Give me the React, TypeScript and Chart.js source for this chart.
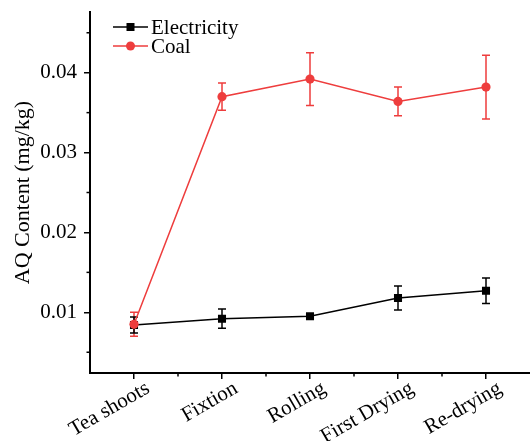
import React, { useEffect, useRef } from 'react';
import { Chart, registerables } from 'chart.js';

Chart.register(...registerables);

const categories = ['Tea shoots', 'Fixtion', 'Rolling', 'First Drying', 'Re-drying'];
const electricity = [0.0084, 0.0092, 0.0095, 0.0118, 0.0127];
const electricityErr = [0.0010, 0.0012, 0.0003, 0.0015, 0.0016];
const coal = [0.0085, 0.0370, 0.0392, 0.0364, 0.0382];
const coalErr = [0.0015, 0.0017, 0.0033, 0.0018, 0.0040];
const yMajorTicks = [0.01, 0.02, 0.03, 0.04];
const yMinorTicks = [0.005, 0.015, 0.025, 0.035, 0.045];
const yMin = 0.0024;
const yMax = 0.0476;

const FONT = '"Liberation Serif", "Times New Roman", serif';
const BLACK = '#000000';
const RED = '#EE3D3D';

const errorBarPlugin = {
  id: 'errorBars',
  beforeDatasetsDraw(chart: any) {
    const ctx = chart.ctx;
    const y = chart.scales.y;
    const order = chart.data.datasets.map((_: any, i: number) => i).reverse();
    order.forEach((di: number) => {
      const ds = chart.data.datasets[di];
      const meta = chart.getDatasetMeta(di);
      const errs: number[] = ds.errors;
      ctx.save();
      ctx.strokeStyle = ds.borderColor;
      ctx.lineWidth = 1.5;
      meta.data.forEach((pt: any, i: number) => {
        const v = ds.data[i];
        const e = errs[i];
        const px = pt.x;
        const top = y.getPixelForValue(v + e);
        const bot = y.getPixelForValue(v - e);
        ctx.beginPath();
        ctx.moveTo(px, top);
        ctx.lineTo(px, bot);
        ctx.moveTo(px - 4, top);
        ctx.lineTo(px + 4, top);
        ctx.moveTo(px - 4, bot);
        ctx.lineTo(px + 4, bot);
        ctx.stroke();
      });
      ctx.restore();
    });
  },
};

const minorTicksPlugin = {
  id: 'minorTicks',
  afterDraw(chart: any) {
    const { ctx, chartArea } = chart;
    const x = chart.scales.x;
    const y = chart.scales.y;
    ctx.save();
    ctx.strokeStyle = BLACK;
    ctx.lineWidth = 1.5;
    yMinorTicks.forEach((v) => {
      const py = y.getPixelForValue(v);
      if (py < chartArea.top - 0.5 || py > chartArea.bottom + 0.5) return;
      ctx.beginPath();
      ctx.moveTo(chartArea.left, py);
      ctx.lineTo(chartArea.left - 3.5, py);
      ctx.stroke();
    });
    for (let i = 0; i < categories.length - 1; i++) {
      const px = x.getPixelForValue(i + 0.5);
      ctx.beginPath();
      ctx.moveTo(px, chartArea.bottom);
      ctx.lineTo(px, chartArea.bottom + 3.5);
      ctx.stroke();
    }
    ctx.restore();
  },
};

const legendPlugin = {
  id: 'customLegend',
  afterDraw(chart: any) {
    const ctx = chart.ctx;
    const x0 = 113;
    const lineLen = 35;
    const rowY = [27, 46];
    ctx.save();
    chart.data.datasets.forEach((ds: any, i: number) => {
      const yy = rowY[i];
      ctx.strokeStyle = ds.borderColor;
      ctx.lineWidth = 1.5;
      ctx.beginPath();
      ctx.moveTo(x0, yy);
      ctx.lineTo(x0 + lineLen, yy);
      ctx.stroke();
      ctx.fillStyle = ds.borderColor;
      ctx.beginPath();
      const cx = x0 + lineLen / 2;
      if (ds.pointStyle === 'rect') {
        ctx.rect(cx - 4, yy - 4, 8, 8);
      } else {
        ctx.arc(cx, yy, 4.5, 0, Math.PI * 2);
      }
      ctx.fill();
      ctx.fillStyle = BLACK;
      ctx.font = `21px ${FONT}`;
      ctx.textBaseline = 'middle';
      ctx.textAlign = 'left';
      ctx.fillText(ds.label, x0 + lineLen + 3, yy + 1);
    });
    ctx.restore();
  },
};

export default function App() {
  const ref = useRef<HTMLCanvasElement | null>(null);

  useEffect(() => {
    if (!ref.current) return;
    const chart = new Chart(ref.current, {
      type: 'line',
      data: {
        labels: categories,
        datasets: [
          {
            label: 'Electricity',
            data: electricity,
            errors: electricityErr,
            borderColor: BLACK,
            backgroundColor: BLACK,
            borderWidth: 1.5,
            pointStyle: 'rect',
            pointRadius: 5.7,
            pointBorderWidth: 0,
            order: 2,
          } as any,
          {
            label: 'Coal',
            data: coal,
            errors: coalErr,
            borderColor: RED,
            backgroundColor: RED,
            borderWidth: 1.5,
            pointStyle: 'circle',
            pointRadius: 4.6,
            pointBorderWidth: 0,
            order: 1,
          } as any,
        ],
      },
      options: {
        animation: false,
        responsive: true,
        maintainAspectRatio: false,
        layout: { autoPadding: false, padding: { top: 12, left: 0, right: 0, bottom: 0 } },
        plugins: {
          legend: { display: false },
          tooltip: { enabled: false },
        },
        scales: {
          x: {
            type: 'category',
            offset: true,
            grid: {
              drawOnChartArea: false,
              drawTicks: true,
              tickLength: 6,
              color: BLACK,
              lineWidth: 1.5,
            },
            border: { display: true, color: BLACK, width: 2 },
            ticks: {
              color: BLACK,
              font: { family: FONT, size: 21 },
              minRotation: 30,
              maxRotation: 30,
              autoSkip: false,
              padding: -3,
              labelOffset: 14,
            },
            afterFit(scale: any) {
              scale.height = 68;
              scale.paddingLeft = 0;
              scale.paddingRight = 0;
            },
          },
          y: {
            type: 'linear',
            min: yMin,
            max: yMax,
            grid: {
              drawOnChartArea: false,
              drawTicks: true,
              tickLength: 6,
              color: BLACK,
              lineWidth: 1.5,
            },
            border: { display: true, color: BLACK, width: 2 },
            ticks: {
              color: BLACK,
              font: { family: FONT, size: 21 },
              padding: 7,
              includeBounds: false,
              callback: (v: any) => Number(v).toFixed(2),
            },
            afterBuildTicks(scale: any) {
              scale.ticks = yMajorTicks.map((v) => ({ value: v }));
            },
            title: {
              display: true,
              text: 'AQ Content (mg/kg)',
              color: BLACK,
              font: { family: FONT, size: 22 },
              padding: { top: 10, bottom: 0 },
            },
            afterFit(scale: any) {
              scale.width = 90;
              scale.paddingTop = 0;
              scale.paddingBottom = 0;
            },
          },
        },
      } as any,
      plugins: [errorBarPlugin, minorTicksPlugin, legendPlugin],
    });
    return () => chart.destroy();
  }, []);

  return (
    <div style={{ position: 'fixed', left: 0, top: 0, width: 530, height: 441, background: '#fff' }}>
      <canvas ref={ref} />
    </div>
  );
}
